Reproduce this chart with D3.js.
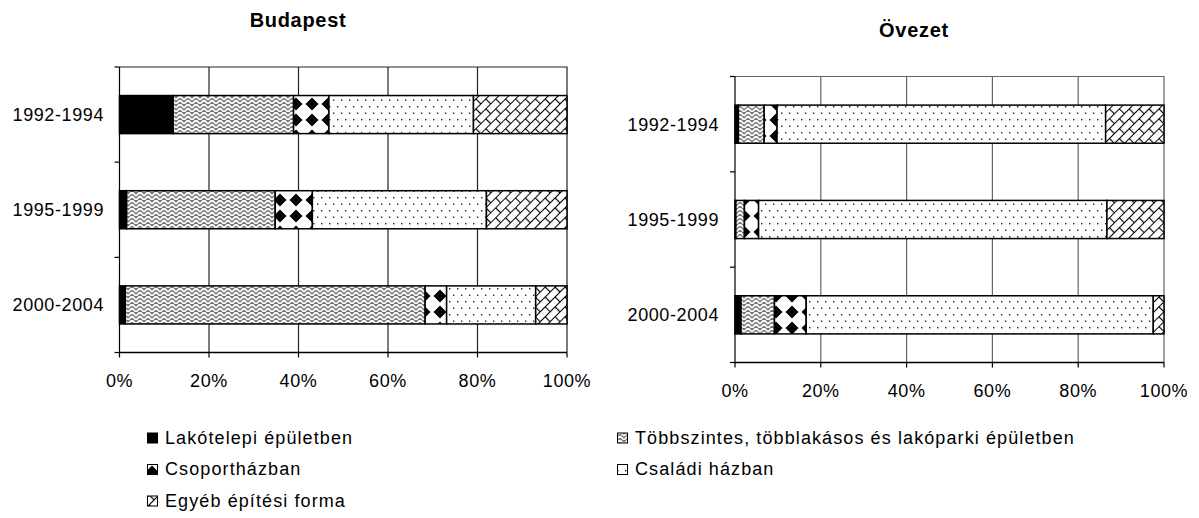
<!DOCTYPE html>
<html>
<head>
<meta charset="utf-8">
<script src="https://cdn.jsdelivr.net/npm/d3@7/dist/d3.min.js"></script>
<style>
  body { margin: 0; background: #fff; }
  text { font-family: "Liberation Sans", Arial, sans-serif; fill: #000; }
</style>
</head>
<body>
<svg width="1199" height="518"></svg>
<script>
var periods = ["1992-1994", "1995-1999", "2000-2004"];
var seriesNames = [
  "Lakótelepi épületben",
  "Többszintes, többlakásos és lakóparki épületben",
  "Csoportházban",
  "Családi házban",
  "Egyéb építési forma"
];
var xTicks = [0, 20, 40, 60, 80, 100];

// Budapest, % by period
var bpLakotelepi = [12.0, 1.6, 1.3];
var bpTobbszintes = [26.9, 33.2, 67.0];
var bpCsoport = [7.9, 8.3, 4.8];
var bpCsaladi = [32.3, 38.9, 19.9];
var bpEgyeb = [20.9, 18.0, 7.0];

// Övezet, % by period
var ovLakotelepi = [0.8, 0.2, 1.4];
var ovTobbszintes = [6.0, 2.0, 7.8];
var ovCsoport = [3.0, 3.3, 7.4];
var ovCsaladi = [76.6, 81.2, 80.9];
var ovEgyeb = [13.6, 13.3, 2.5];

var keys = ["s0", "s1", "s2", "s3", "s4"];
var fills = ["#000", "url(#p-herring)", "url(#p-diamond)", "url(#p-dots)", "url(#p-brick)"];

function table(cols) {
  return periods.map(function (p, i) {
    var row = { period: p };
    cols.forEach(function (c, k) { row[keys[k]] = c[i]; });
    return row;
  });
}

var svg = d3.select("svg");
var defs = svg.append("defs");

// herringbone weave: grey ground with white zigzags
var ph = defs.append("pattern").attr("id", "p-herring")
  .attr("patternUnits", "userSpaceOnUse").attr("width", 8).attr("height", 8);
ph.append("rect").attr("width", 8).attr("height", 8).attr("fill", "#7a7a7a");
ph.append("path")
  .attr("d", "M0,4 L4,0 M0,8 L4,4 M4,0 L8,4 M4,4 L8,8")
  .attr("stroke", "#fff").attr("stroke-width", 1.7).attr("fill", "none");

// black diamonds on white
var pd = defs.append("pattern").attr("id", "p-diamond")
  .attr("patternUnits", "userSpaceOnUse").attr("width", 16).attr("height", 16);
pd.append("rect").attr("width", 16).attr("height", 16).attr("fill", "#fff");
pd.append("path").attr("d", "M8,1.5 L14.5,8 L8,14.5 L1.5,8Z").attr("fill", "#000");

// sparse dots
var pt = defs.append("pattern").attr("id", "p-dots")
  .attr("patternUnits", "userSpaceOnUse").attr("width", 8).attr("height", 13);
pt.append("rect").attr("width", 8).attr("height", 13).attr("fill", "#fff");
pt.append("rect").attr("x", 1).attr("y", 2).attr("width", 1.4).attr("height", 1.4).attr("fill", "#222");
pt.append("rect").attr("x", 5).attr("y", 8.5).attr("width", 1.4).attr("height", 1.4).attr("fill", "#222");

// diagonal brick
var pb = defs.append("pattern").attr("id", "p-brick")
  .attr("patternUnits", "userSpaceOnUse").attr("width", 14).attr("height", 14)
  .attr("patternTransform", "rotate(-45)");
pb.append("rect").attr("width", 14).attr("height", 14).attr("fill", "#fff");
pb.append("path")
  .attr("d", "M0,0.5 H14 M0,7.5 H14 M0.5,0.5 V7.5 M7.5,7.5 V14")
  .attr("stroke", "#000").attr("stroke-width", 1.2).attr("fill", "none");

function drawChart(cfg) {
  var data = table(cfg.cols);
  var stack = d3.stack().keys(keys)(data);

  var x = d3.scaleLinear().domain([0, 100]).range([cfg.x0, cfg.x1]);
  var y = d3.scaleBand().domain(periods).range([cfg.y0, cfg.y1])
    .paddingInner(0.6).paddingOuter(0.3);

  var g = svg.append("g");

  g.append("text")
    .attr("x", cfg.titleX).attr("y", cfg.titleY)
    .attr("text-anchor", "middle")
    .style("font-size", "20px").style("font-weight", "bold")
    .style("letter-spacing", "0.7px")
    .text(cfg.title);

  // vertical gridlines
  g.selectAll(".grid").data(xTicks.slice(1, -1)).enter().append("line")
    .attr("x1", function (d) { return x(d); }).attr("x2", function (d) { return x(d); })
    .attr("y1", cfg.y0).attr("y2", cfg.y1)
    .attr("stroke", cfg.gridColor).attr("stroke-width", 1.2);

  // plot frame top / right
  g.append("path")
    .attr("d", "M" + cfg.x0 + "," + cfg.y0 + " H" + cfg.x1 + " V" + cfg.y1)
    .attr("stroke", cfg.gridColor).attr("stroke-width", 1.2).attr("fill", "none");

  // stacked bars
  stack.forEach(function (s, k) {
    g.selectAll(".b" + k).data(s).enter().append("rect")
      .attr("x", function (d) { return x(d[0]); })
      .attr("y", function (d) { return y(d.data.period); })
      .attr("width", function (d) { return x(d[1]) - x(d[0]); })
      .attr("height", y.bandwidth())
      .attr("fill", fills[k])
      .attr("stroke", "#000").attr("stroke-width", 1.5);
  });

  // axes
  var step = y.step();
  var bounds = d3.range(periods.length + 1).map(function (i) { return cfg.y0 + i * step; });
  g.append("line").attr("x1", cfg.x0).attr("x2", cfg.x0).attr("y1", cfg.y0).attr("y2", cfg.y1)
    .attr("stroke", "#000").attr("stroke-width", 1.2);
  g.selectAll(".yt").data(bounds).enter().append("line")
    .attr("x1", cfg.x0 - 5).attr("x2", cfg.x0)
    .attr("y1", function (d) { return d; }).attr("y2", function (d) { return d; })
    .attr("stroke", "#000").attr("stroke-width", 1.2);
  g.append("line").attr("x1", cfg.x0).attr("x2", cfg.x1).attr("y1", cfg.y1).attr("y2", cfg.y1)
    .attr("stroke", "#000").attr("stroke-width", 1.5);
  g.selectAll(".xt").data(xTicks).enter().append("line")
    .attr("x1", function (d) { return x(d); }).attr("x2", function (d) { return x(d); })
    .attr("y1", cfg.y1).attr("y2", cfg.y1 + 5)
    .attr("stroke", "#000").attr("stroke-width", 1.2);

  g.selectAll(".xl").data(xTicks).enter().append("text")
    .attr("x", function (d) { return x(d); })
    .attr("y", cfg.y1 + 34.5)
    .attr("text-anchor", "middle")
    .style("font-size", "18px").style("letter-spacing", "0.6px")
    .text(function (d) { return d + "%"; });

  g.selectAll(".yl").data(periods).enter().append("text")
    .attr("x", cfg.labelRight)
    .attr("y", function (d) { return y(d) + y.bandwidth() / 2 + 6.5; })
    .attr("text-anchor", "end")
    .style("font-size", "18px").style("letter-spacing", "0.6px")
    .text(function (d) { return d; });
}

drawChart({
  title: "Budapest", titleX: 298, titleY: 27,
  x0: 119.5, x1: 567, y0: 67, y1: 352.5,
  labelRight: 104, gridColor: "#222",
  cols: [bpLakotelepi, bpTobbszintes, bpCsoport, bpCsaladi, bpEgyeb]
});

drawChart({
  title: "Övezet", titleX: 914, titleY: 37,
  x0: 735, x1: 1164, y0: 76.5, y1: 362.5,
  labelRight: 719, gridColor: "#666",
  cols: [ovLakotelepi, ovTobbszintes, ovCsoport, ovCsaladi, ovEgyeb]
});

// legend
var legendPos = [
  { x: 147, y: 443.5 }, { x: 617, y: 443.5 },
  { x: 147, y: 475 }, { x: 617, y: 475 },
  { x: 147, y: 506.5 }
];
var lg = svg.append("g");
seriesNames.forEach(function (name, k) {
  var p = legendPos[k];
  lg.append("rect")
    .attr("x", p.x + 0.5).attr("y", p.y - 10.5)
    .attr("width", 10).attr("height", 10)
    .attr("fill", fills[k]).attr("stroke", "#000").attr("stroke-width", 1);
  lg.append("text")
    .attr("x", p.x + 18).attr("y", p.y)
    .style("font-size", "18px").style("letter-spacing", "1.1px")
    .text(name);
});
</script>
</body>
</html>
